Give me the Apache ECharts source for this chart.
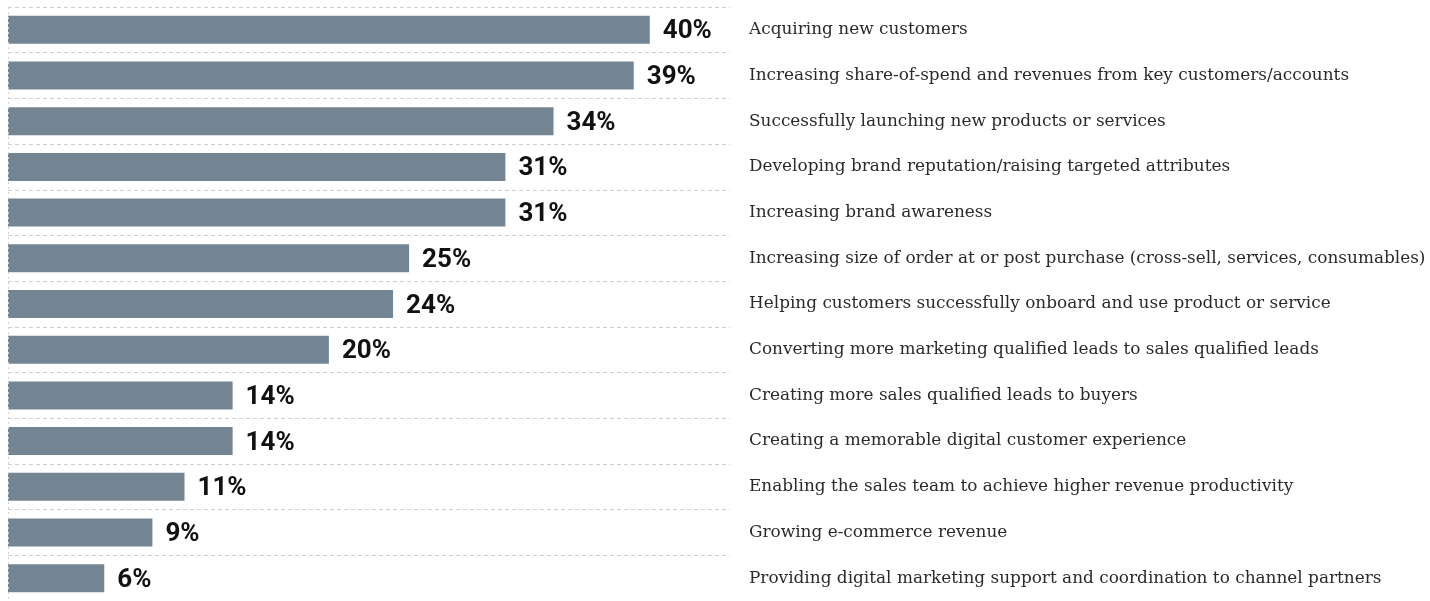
<!DOCTYPE html>
<html><head><meta charset="utf-8">
<script src="https://cdn.jsdelivr.net/npm/echarts@6/dist/echarts.min.js"></script>
<style>html,body{margin:0;padding:0;background:#fff}#c{width:1430px;height:601px}</style>
</head><body><div id="c"></div>
<script>
var categories = [
  "Acquiring new customers",
  "Increasing share-of-spend and revenues from key customers/accounts",
  "Successfully launching new products or services",
  "Developing brand reputation/raising targeted attributes",
  "Increasing brand awareness",
  "Increasing size of order at or post purchase (cross-sell, services, consumables)",
  "Helping customers successfully onboard and use product or service",
  "Converting more marketing qualified leads to sales qualified leads",
  "Creating more sales qualified leads to buyers",
  "Creating a memorable digital customer experience",
  "Enabling the sales team to achieve higher revenue productivity",
  "Growing e-commerce revenue",
  "Providing digital marketing support and coordination to channel partners"
];
var values = [40, 39, 34, 31, 31, 25, 24, 20, 14, 14, 11, 9, 6];

var chart = echarts.init(document.getElementById('c'));
chart.setOption({
  animation: false,
  grid: { left: 8, top: 7, width: 722, height: 599, containLabel: false },
  xAxis: {
    type: 'value', min: 0, max: 45, show: false
  },
  yAxis: {
    type: 'category', data: categories, inverse: true, position: 'right',
    axisLine: { show: false },
    axisTick: { show: false },
    splitLine: { show: true, lineStyle: { type: [4, 3], color: '#cfcfcf', width: 1 } },
    axisLabel: {
      margin: 19, align: 'left', color: '#2a2a2a',
      fontFamily: 'DejaVu Serif', fontSize: 16.9
    }
  },
  series: [{
    type: 'bar', data: values, barWidth: 28,
    itemStyle: { color: '#738592' },
    label: {
      show: true, position: 'right', distance: 13, offset: [0, 2],
      formatter: '{c}%', color: '#111', fontFamily: 'Roboto',
      fontWeight: 'bold', fontSize: 26
    }
  }, {
    type: 'line', data: [], markLine: {
      silent: true, symbol: 'none', label: { show: false },
      lineStyle: { type: [2, 3], color: '#d0d0d0', width: 1 },
      data: [{ xAxis: 0 }]
    }
  }]
});
</script></body></html>
